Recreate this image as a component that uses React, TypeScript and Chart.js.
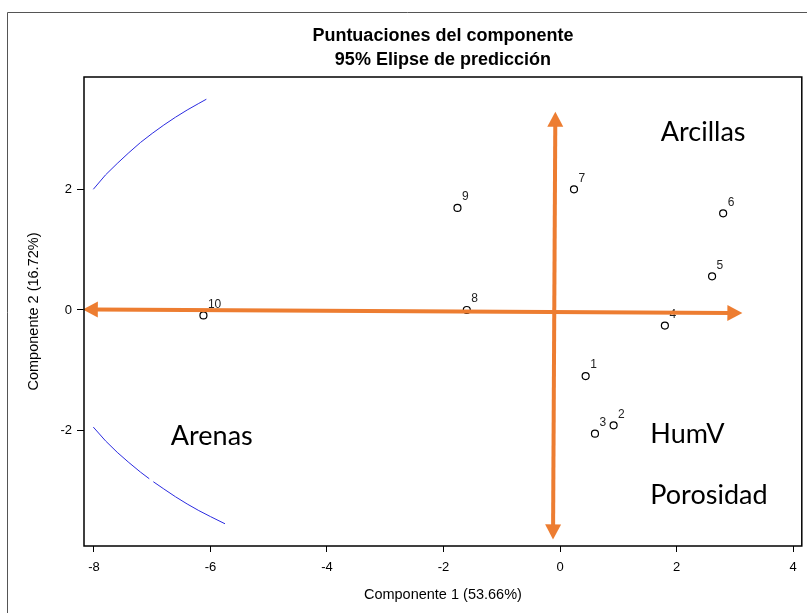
import React, { useEffect, useRef } from "react";
import { Chart, registerables } from "chart.js";

Chart.register(...registerables);

// ---- data ----
const SAMPLE_LABELS = ["1", "2", "3", "4", "5", "6", "7", "8", "9", "10"];
const COMP1 = [0.44, 0.92, 0.6, 1.8, 2.61, 2.8, 0.24, -1.6, -1.76, -6.12];
const COMP2 = [-1.1, -1.92, -2.06, -0.26, 0.56, 1.61, 2.01, 0.0, 1.7, -0.09];

const X_TICKS = [-8, -6, -4, -2, 0, 2, 4];
const Y_TICKS = [-2, 0, 2];

// visible pieces of the 95% prediction ellipse (read along the arcs)
const ELL_UP_X = [-8.01, -7.8, -7.6, -7.4, -7.2, -7.0, -6.8, -6.6, -6.4, -6.2, -6.07];
const ELL_UP_Y = [2.01, 2.25, 2.44, 2.62, 2.79, 2.94, 3.08, 3.21, 3.33, 3.44, 3.51];
const ELL_LOW_A_X = [-8.01, -7.8, -7.6, -7.4, -7.2, -7.05];
const ELL_LOW_A_Y = [-1.95, -2.18, -2.37, -2.54, -2.7, -2.81];
const ELL_LOW_B_X = [-6.98, -6.8, -6.6, -6.4, -6.2, -6.0, -5.75];
const ELL_LOW_B_Y = [-2.86, -2.98, -3.11, -3.23, -3.34, -3.44, -3.56];

// double-headed orange arrows (start / end in data units)
const ARROW_X1 = [-8.19, -0.08];
const ARROW_Y1 = [0.01, 3.3];
const ARROW_X2 = [3.13, -0.12];
const ARROW_Y2 = [-0.05, -3.82];

// text notes
const NOTE_TEXT = ["Arcillas", "Arenas", "HumV", "Porosidad"];
const NOTE_X = [1.73, -6.68, 1.55, 1.55];
const NOTE_Y = [2.82, -2.25, -2.22, -3.23];

const TITLE_LINES = ["Puntuaciones del componente", "95% Elipse de predicción"];
const X_TITLE = "Componente 1 (53.66%)";
const Y_TITLE = "Componente 2 (16.72%)";

const X_MIN = -8.17;
const X_MAX = 4.15;
const Y_MIN = -3.93;
const Y_MAX = 3.88;

const ORANGE = "#ED7D31";
const BLUE = "#2a2ae0";
const ARIAL = "'Liberation Sans', Arial, sans-serif";
const NOTE_FONT = "Lato, 'Open Sans', sans-serif";

const xy = (xs: number[], ys: number[]) => xs.map((x, i) => ({ x, y: ys[i] }));

const arcDataset = (label: string, xs: number[], ys: number[]) => ({
  label,
  data: xy(xs, ys),
  showLine: true,
  borderColor: BLUE,
  borderWidth: 1,
  pointRadius: 0,
  tension: 0,
});

export default function App() {
  const ref = useRef<HTMLCanvasElement | null>(null);

  useEffect(() => {
    if (!ref.current) return;

    const overlay = {
      id: "overlay",
      afterDatasetsDraw(chart: any) {
        const ctx = chart.ctx;
        const xs = chart.scales.x;
        const ys = chart.scales.y;
        // point labels
        ctx.save();
        ctx.fillStyle = "#222";
        ctx.font = `12px ${ARIAL}`;
        ctx.textAlign = "left";
        ctx.textBaseline = "middle";
        SAMPLE_LABELS.forEach((l, i) => {
          const px = xs.getPixelForValue(COMP1[i]);
          const py = ys.getPixelForValue(COMP2[i]);
          ctx.fillText(l, px + 4.5, py - 11);
        });
        ctx.restore();

        // arrows
        ctx.save();
        ctx.strokeStyle = ORANGE;
        ctx.fillStyle = ORANGE;
        ctx.lineWidth = 4;
        const head = 15;
        const half = 8;
        ARROW_X1.forEach((_, i) => {
          const x1 = xs.getPixelForValue(ARROW_X1[i]);
          const y1 = ys.getPixelForValue(ARROW_Y1[i]);
          const x2 = xs.getPixelForValue(ARROW_X2[i]);
          const y2 = ys.getPixelForValue(ARROW_Y2[i]);
          const dx = x2 - x1;
          const dy = y2 - y1;
          const len = Math.hypot(dx, dy);
          const ux = dx / len;
          const uy = dy / len;
          ctx.beginPath();
          ctx.moveTo(x1 + ux * head * 0.8, y1 + uy * head * 0.8);
          ctx.lineTo(x2 - ux * head * 0.8, y2 - uy * head * 0.8);
          ctx.stroke();
          const drawHead = (tx: number, ty: number, dxu: number, dyu: number) => {
            const bx = tx - dxu * head;
            const by = ty - dyu * head;
            ctx.beginPath();
            ctx.moveTo(tx, ty);
            ctx.lineTo(bx - dyu * half, by + dxu * half);
            ctx.lineTo(bx + dyu * half, by - dxu * half);
            ctx.closePath();
            ctx.fill();
          };
          drawHead(x2, y2, ux, uy);
          drawHead(x1, y1, -ux, -uy);
        });
        ctx.restore();

        // notes
        ctx.save();
        ctx.fillStyle = "#000";
        ctx.font = `27px ${NOTE_FONT}`;
        ctx.textAlign = "left";
        ctx.textBaseline = "alphabetic";
        NOTE_TEXT.forEach((t, i) => {
          ctx.fillText(t, xs.getPixelForValue(NOTE_X[i]), ys.getPixelForValue(NOTE_Y[i]));
        });
        ctx.restore();
      },
      afterDraw(chart: any) {
        const ctx = chart.ctx;
        const a = chart.chartArea;
        ctx.save();
        // outer frame
        ctx.strokeStyle = "#555";
        ctx.lineWidth = 1;
        ctx.beginPath();
        ctx.moveTo(7.5, chart.height);
        ctx.lineTo(7.5, 12.5);
        ctx.lineTo(chart.width, 12.5);
        ctx.stroke();
        // plot frame
        ctx.strokeStyle = "#000";
        ctx.lineWidth = 1.5;
        ctx.strokeRect(a.left, a.top, a.right - a.left, a.bottom - a.top);
        // title
        const cx = (a.left + a.right) / 2;
        ctx.fillStyle = "#000";
        ctx.textAlign = "center";
        ctx.textBaseline = "middle";
        ctx.font = `bold 18px ${ARIAL}`;
        ctx.fillText(TITLE_LINES[0], cx, 36);
        ctx.fillText(TITLE_LINES[1], cx, 60);
        // axis titles
        ctx.font = `14.5px ${ARIAL}`;
        ctx.fillText(X_TITLE, cx, 595);
        ctx.translate(34, (a.top + a.bottom) / 2);
        ctx.rotate(-Math.PI / 2);
        ctx.fillText(Y_TITLE, 0, 0);
        ctx.restore();
      },
    };

    const chart = new Chart(ref.current, {
      type: "scatter",
      data: {
        datasets: [
          {
            label: "scores",
            data: xy(COMP1, COMP2),
            pointRadius: 3.5,
            pointBorderWidth: 1.2,
            pointBorderColor: "#000",
            pointBackgroundColor: "#fff",
            showLine: false,
          },
          arcDataset("ellipse-up", ELL_UP_X, ELL_UP_Y),
          arcDataset("ellipse-low-a", ELL_LOW_A_X, ELL_LOW_A_Y),
          arcDataset("ellipse-low-b", ELL_LOW_B_X, ELL_LOW_B_Y),
        ],
      },
      options: {
        animation: false,
        responsive: true,
        maintainAspectRatio: false,
        layout: { padding: { top: 77, right: 2, left: 0, bottom: 0 } },
        plugins: {
          legend: { display: false },
          tooltip: { enabled: false },
          title: { display: false },
        },
        scales: {
          x: {
            type: "linear",
            min: X_MIN,
            max: X_MAX,
            afterBuildTicks: (s: any) => {
              s.ticks = X_TICKS.map((v) => ({ value: v }));
            },
            afterFit: (s: any) => {
              s.height = 67;
              s.paddingLeft = 0;
              s.paddingRight = 0;
            },
            border: { display: false },
            grid: {
              display: true,
              drawOnChartArea: false,
              drawTicks: true,
              tickLength: 6,
              color: "#000",
              lineWidth: 1,
            },
            ticks: {
              color: "#000",
              font: { size: 13, family: ARIAL },
              padding: 8,
              maxRotation: 0,
            },
          },
          y: {
            type: "linear",
            min: Y_MIN,
            max: Y_MAX,
            afterBuildTicks: (s: any) => {
              s.ticks = Y_TICKS.map((v) => ({ value: v }));
            },
            afterFit: (s: any) => {
              s.width = 84;
              s.paddingTop = 0;
              s.paddingBottom = 0;
            },
            border: { display: false },
            grid: {
              display: true,
              drawOnChartArea: false,
              drawTicks: true,
              tickLength: 7,
              color: "#000",
              lineWidth: 1,
            },
            ticks: {
              color: "#000",
              font: { size: 13, family: ARIAL },
              padding: 5,
            },
          },
        },
      },
      plugins: [overlay],
    } as any);

    return () => chart.destroy();
  }, []);

  return (
    <div style={{ position: "absolute", left: 0, top: 0, width: 807, height: 613, background: "#fff" }}>
      <canvas ref={ref} />
    </div>
  );
}
